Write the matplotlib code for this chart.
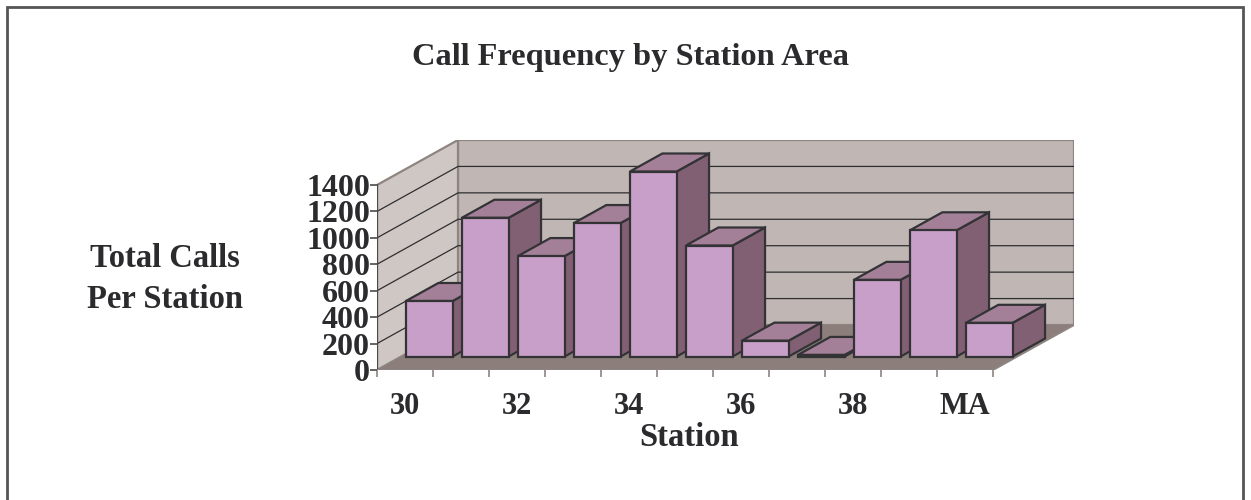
import matplotlib.pyplot as plt
from matplotlib.patches import Polygon, Rectangle

# calls per station area
stations = ["30", "31", "32", "33", "34", "35", "36", "37", "38", "39", "MA"]
calls = [420, 1050, 760, 1010, 1400, 840, 120, 12, 580, 955, 255]
y_ticks = [0, 200, 400, 600, 800, 1000, 1200, 1400]

plt.rcParams['font.family'] = ['Liberation Serif', 'DejaVu Serif']
plt.rcParams['font.weight'] = 'bold'
txt = '#2b2b2e'

fig = plt.figure(figsize=(12.51, 5.0), dpi=100)
W, H = 1251, 500
# plot box: front-left corner of floor to top of back wall
ax = fig.add_axes([377 / W, 1 - 370 / H, (1074 - 377) / W, (370 - 140) / H])

n = len(stations)
ymax = y_ticks[-1]
# depth vector of the floor in data units
dx = 81 / 56
dy = 45 * ymax / 185
ax.set_xlim(0, n + dx)
ax.set_ylim(0, ymax + dy)

# walls and floor
ax.add_patch(Polygon([(dx, dy), (n + dx, dy), (n + dx, ymax + dy), (dx, ymax + dy)],
                     closed=True, fc='#c0b7b4', ec='#8e8481', lw=1.6, zorder=1))
ax.add_patch(Polygon([(0, 0), (dx, dy), (dx, ymax + dy), (0, ymax)],
                     closed=True, fc='#cfc7c4', ec='#8e8481', lw=1.6, zorder=1))
ax.add_patch(Polygon([(0, 0), (n, 0), (n + dx, dy), (dx, dy)],
                     closed=True, fc='#8c7f7b', ec='none', zorder=1))

# gridlines on both walls
for v in y_ticks[1:-1]:
    ax.plot([0, dx, n + dx], [v, v + dy, v + dy], color='#2e2e30', lw=0.9, zorder=2)
ax.plot([0, 0], [0, ymax], color='#4a4a4c', lw=1.6, zorder=2)
ax.plot([0, n], [0, 0], color='#8e8481', lw=1.4, zorder=2)
ax.plot([n, n + dx], [0, dy], color='#8e8481', lw=1.4, zorder=2)

# bars
bw = 1 / 1.2
f0, fd = 0.3, 0.4
for i, v in enumerate(calls):
    x0 = i + (1 - bw) / 2 + f0 * dx
    x1 = x0 + bw
    y0 = f0 * dy
    ddx, ddy = fd * dx, fd * dy
    side = [(x1, y0), (x1 + ddx, y0 + ddy), (x1 + ddx, y0 + v + ddy), (x1, y0 + v)]
    top = [(x0, y0 + v), (x1, y0 + v), (x1 + ddx, y0 + v + ddy), (x0 + ddx, y0 + v + ddy)]
    front = [(x0, y0), (x1, y0), (x1, y0 + v), (x0, y0 + v)]
    for pts, c in ((side, '#826073'), (top, '#a48098'), (front, '#c89fc9')):
        ax.add_patch(Polygon(pts, closed=True, fc=c, ec='#333336', lw=1.6,
                             joinstyle='miter', zorder=3 + i))

for s in ax.spines.values():
    s.set_visible(False)
ax.set_facecolor('none')

ax.set_yticks(y_ticks)
ax.set_yticklabels([str(t) for t in y_ticks], fontsize=23, color=txt)
ax.tick_params(axis='y', length=5, width=1.2, color='#4a4a4c', pad=0)

ax.set_xticks(range(n + 1), minor=True)
ax.set_xticks([i + 0.5 for i in range(0, n, 2)])
ax.set_xticklabels(stations[::2], fontsize=22, color=txt)
ax.tick_params(axis='x', which='major', length=0, pad=16)
ax.tick_params(axis='x', which='minor', length=5, width=1.2, color='#8e8481')

fig.text(630 / W, 1 - 57 / H, "Call Frequency by Station Area", ha='center', va='center',
         fontsize=23.3, color=txt)
fig.text(165 / W, 1 - 279 / H, "Total Calls\nPer Station", ha='center', va='center',
         fontsize=23.5, color=txt, linespacing=1.45)
fig.text(689 / W, 1 - 437 / H, "Station", ha='center', va='center', fontsize=23.5, color=txt)

# chart frame
fig.patches.append(Rectangle((7 / W, -0.1), (1243 - 7) / W, 1.1 - 7 / H,
                             transform=fig.transFigure, fill=False, ec='#555558', lw=2))

fig.savefig('out.png', dpi=100)
